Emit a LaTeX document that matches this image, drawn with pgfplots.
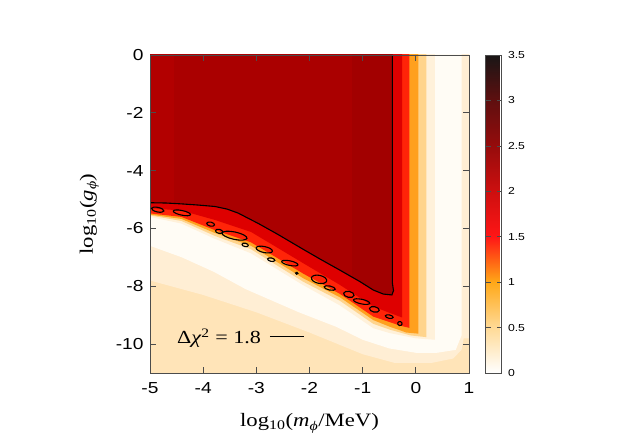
\documentclass[border=0pt]{standalone}
\usepackage{fontspec}
\setmainfont{Liberation Sans}[FakeStretch=1.2]
\newfontfamily\tms{Liberation Serif}[FakeStretch=1.2]
\usepackage{pgfplots}
\pgfplotsset{compat=1.18}
\definecolor{cDk}{RGB}{170,0,0}
\definecolor{cDkL}{RGB}{178,0,0}
\definecolor{cDkR}{RGB}{162,0,0}
\definecolor{cRd}{RGB}{222,0,0}
\definecolor{cBr}{RGB}{255,36,8}
\definecolor{cOr}{RGB}{255,160,30}
\definecolor{cLo}{RGB}{255,212,140}
\definecolor{cVl}{RGB}{255,241,218}
\definecolor{cWh}{RGB}{255,252,245}
\definecolor{cPa}{RGB}{255,238,212}
\definecolor{cBg}{RGB}{255,228,184}
\pgfdeclareplotmark{ell}{\pgftransformrotate{-12}\pgfpathellipse{\pgfpointorigin}{\pgfpoint{\ea bp}{0pt}}{\pgfpoint{0pt}{\eb bp}}\pgfusepathqstroke}
\begin{document}
\begin{tikzpicture}
\path[use as bounding box] (0,0) rectangle (620bp,434bp);
\begin{axis}[
  at={(150bp,61bp)}, anchor=south west,
  scale only axis, width=319bp, height=318bp,
  xmin=-5, xmax=1, ymin=-11, ymax=0,
  xtick={-5,-4,-3,-2,-1,0,1}, ytick={-10,-8,-6,-4,-2,0},
  tick align=inside, major tick length=6bp,
  tick style={black!70, line width=0.7bp},
  axis line style={black!70, line width=0.8bp},
  axis background/.style={fill=cBg},
  axis on top,
  /pgf/number format/assume math mode=true,
  ticklabel style={font=\fontsize{16}{19}\selectfont},
  xticklabel style={yshift=-6bp},
  yticklabel style={xshift=-3bp},
  xlabel={log\textsubscript{10}(\textit{m}\textsubscript{\textit{ϕ}}/MeV)},
  ylabel={log\textsubscript{10}(\textit{g}\textsubscript{\textit{ϕ}})},
  label style={font=\tms\fontsize{19}{23}\selectfont},
  xlabel style={at={(axis description cs:0.5,-0.158)}, anchor=center},
  ylabel style={at={(axis description cs:-0.19,0.5)}, anchor=center},
  colormap={gp}{rgb255(0pt)=(255,255,255); rgb255(50pt)=(255,218,150); rgb255(100pt)=(255,168,24); rgb255(125pt)=(255,95,20); rgb255(150pt)=(255,22,22); rgb255(200pt)=(205,15,15); rgb255(250pt)=(150,12,12); rgb255(300pt)=(95,15,15); rgb255(350pt)=(25,22,22)},
  point meta min=0, point meta max=3.5,
  colorbar,
  colorbar style={at={(parent axis.north east)}, anchor=north west, xshift=8bp,
    scale only axis, width=16bp, height=318bp,
    ytick={0,0.5,1,1.5,2,2.5,3,3.5},
    ytick pos=both, yticklabel pos=right,
    tick align=inside, major tick length=5bp,
    tick style={black!70, line width=0.6bp},
    axis line style={black!70, line width=0.8bp},
    /pgf/number format/assume math mode=true,
    yticklabel style={font=\fontsize{10.2}{12}\selectfont, xshift=3bp}},
  legend style={draw=none, fill=none, at={(axis description cs:0.078,0.114)}, anchor=west,
    inner sep=0pt, font=\tms\fontsize{18.5}{22}\selectfont},
  legend plot pos=right,
  legend image code/.code={\path[draw=none, fill=none] (0bp,0bp) -- (7bp,0bp); \draw[#1] (7bp,0bp) -- (41bp,0bp);},
]
% pale region
\addplot[draw=none, fill=cPa, forget plot] coordinates {(-5.5,1) (-5.5,-7.8) (-5,-7.8) (-4,-8.3) (-3,-8.9) (-2,-9.6) (-1,-10.35) (-0.4,-10.65) (0.3,-10.65) (0.7,-10.5) (0.86,-10.2) (0.9,-9.8) (1.1,-9.8) (1.1,1)} -- cycle;
% white core
\addplot[draw=none, fill=cWh, forget plot] coordinates {(-5.5,1) (-5.5,-6.6) (-5,-6.6) (-4.4,-7.0) (-3.8,-7.5) (-3.2,-8.1) (-2.2,-8.9) (-1.5,-9.4) (-1.0,-9.85) (-0.5,-10.15) (0,-10.3) (0.4,-10.3) (0.75,-10.2) (0.86,-9.7) (0.86,1)} -- cycle;
% very light
\addplot[draw=none, fill=cVl, forget plot] coordinates {(-5.5,1) (-5.5,-5.6) (-5,-5.6) (-4.41,-5.83) (-3.79,-6.35) (-3.1,-6.86) (-2.12,-7.96) (-1.43,-8.66) (-0.8,-9.45) (-0.49,-9.62) (0,-9.8) (0.36,-9.85) (0.36,1)} -- cycle;
% light orange
\addplot[draw=none, fill=cLo, forget plot] coordinates {(-5.5,1) (-5.5,-5.55) (-5,-5.55) (-4.41,-5.74) (-3.79,-6.25) (-3.1,-6.72) (-2.12,-7.84) (-1.43,-8.5) (-0.8,-9.3) (-0.49,-9.5) (-0.1,-9.7) (0.2,-9.76) (0.2,1)} -- cycle;
% orange
\addplot[draw=none, fill=cOr, forget plot] coordinates {(-5.5,1) (-5.5,-5.52) (-5,-5.52) (-4.41,-5.67) (-3.79,-6.15) (-3.1,-6.6) (-2.12,-7.72) (-1.43,-8.38) (-0.8,-9.17) (-0.49,-9.4) (-0.3,-9.52) (-0.18,-9.6) (0.05,-9.64) (0.05,1)} -- cycle;
% bright red
\addplot[draw=none, fill=cBr, forget plot] coordinates {(-5.5,1) (-5.5,-5.48) (-5,-5.48) (-4.41,-5.6) (-3.79,-6.05) (-3.1,-6.48) (-2.6,-7.03) (-2.12,-7.56) (-1.43,-8.26) (-0.80,-9.05) (-0.49,-9.24) (-0.30,-9.36) (-0.12,-9.44) (-0.12,1)} -- cycle;
% red
\addplot[draw=none, fill=cRd, forget plot] coordinates {(-5.5,1) (-5.5,-5.3) (-5,-5.3) (-4.41,-5.38) (-3.79,-5.7) (-3.1,-6.12) (-2.12,-7.2) (-1.43,-7.95) (-0.8,-8.7) (-0.49,-8.92) (-0.26,-9.08) (-0.26,1)} -- cycle;
% dark red
\addplot[draw=none, fill=cDk, forget plot] coordinates {(-5.5,1) (-5.5,-5.11) (-5,-5.11) (-4.7,-5.12) (-4.41,-5.15) (-4.1,-5.19) (-3.78,-5.24) (-3.55,-5.33) (-3.34,-5.47) (-3.12,-5.68) (-2.97,-5.82) (-2.6,-6.2) (-2.12,-6.72) (-1.8,-7.06) (-1.43,-7.44) (-1.05,-7.84) (-0.80,-8.13) (-0.61,-8.27) (-0.45,-8.30) (-0.42,-8.15) (-0.44,-7.9) (-0.44,1)} -- cycle;
\addplot[draw=none, fill=cDkL, forget plot] coordinates {(-5.5,1) (-5.5,-5.11) (-4.55,-5.13) (-4.55,1)} -- cycle;
\addplot[draw=none, fill=cDkR, forget plot] coordinates {(-1.2,1) (-1.2,-7.68) (-1.05,-7.84) (-0.80,-8.13) (-0.61,-8.27) (-0.45,-8.30) (-0.42,-8.15) (-0.44,-7.9) (-0.44,1)} -- cycle;
% contour islands
\addplot[scatter, only marks, mark=ell, forget plot,
  scatter/use mapped color={draw=black, fill=black},
  mark options={line width=1.1bp},
  visualization depends on={value \thisrow{a} \as \ea},
  visualization depends on={value \thisrow{b} \as \eb}]
  table[x=x, y=y, row sep=\\] {
x y a b \\
-4.855 -5.35 6.3 2.3 \\
-4.40 -5.46 8.8 2.3 \\
-3.86 -5.85 4 2 \\
-3.70 -6.10 3.7 2 \\
-3.41 -6.25 12.7 3.7 \\
-3.21 -6.57 3.2 1.7 \\
-2.85 -6.73 8.3 3 \\
-2.72 -7.08 3.7 1.7 \\
-2.37 -7.20 8.3 2.3 \\
-2.24 -7.55 1.2 1.0 \\
-1.82 -7.76 7.8 4 \\
-1.62 -8.06 5.7 2 \\
-1.26 -8.28 5.3 3 \\
-1.02 -8.53 8.3 2.3 \\
-0.78 -8.80 5 2.7 \\
-0.50 -9.05 4 1.7 \\
-0.30 -9.29 2.2 2 \\
};
% main contour
\addplot[black, line width=1.1bp, mark=none]
  coordinates {(-5,-5.11) (-4.7,-5.12) (-4.41,-5.15) (-4.1,-5.19) (-3.78,-5.24) (-3.55,-5.33) (-3.34,-5.47) (-3.12,-5.68) (-2.97,-5.82) (-2.6,-6.2) (-2.12,-6.72) (-1.8,-7.06) (-1.43,-7.44) (-1.05,-7.84) (-0.80,-8.13) (-0.61,-8.27) (-0.45,-8.30) (-0.42,-8.15) (-0.44,-7.9) (-0.44,0)};
\addlegendentry{Δ\textit{χ}\textsuperscript{2} = 1.8}
\end{axis}
\end{tikzpicture}
\end{document}
